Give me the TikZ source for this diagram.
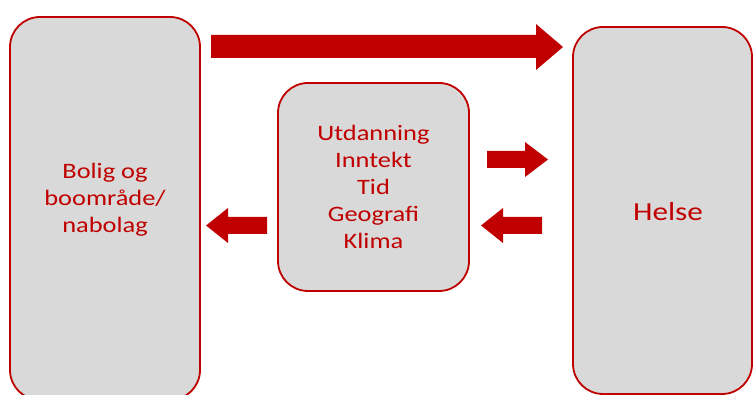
\documentclass[tikz,border=0pt]{standalone}
\usepackage{fontspec}
\newfontfamily\calfont[FakeStretch=1.2]{Carlito}
\definecolor{dred}{HTML}{C00000}
\definecolor{boxgray}{HTML}{D9D9D9}
\tikzset{
  boxnode/.style={draw=dred, line width=1.8pt, fill=boxgray, rounded corners=30pt, inner sep=0pt, minimum width=#1},
  txt/.style={text=dred, font=\calfont\fontsize{22}{27}\selectfont, align=center, inner sep=0pt},
  blockarrow/.style={fill=dred, draw=none}
}
\begin{document}
\begin{tikzpicture}[x=1pt, y=-1pt]
\useasboundingbox (0,0) rectangle (753,395);
\clip (0,0) rectangle (753,395);
% boxes
\node[boxnode=190pt, minimum height=383pt] (bolig) at (105,208.5) {};
\node[boxnode=179pt, minimum height=367pt] (helse) at (662.5,210.5) {};
\node[boxnode=191pt, minimum height=208pt] (faktor) at (373.5,187) {};
% texts
\node[txt] (boligtxt) at (105,200) {Bolig og\\boomr\aa de/\\nabolag};
\node[txt, font=\calfont\fontsize{26}{30}\selectfont] (helsetxt) at (668,212) {Helse};
\node[txt] (faktortxt) at (373.5,187) {Utdanning\\Inntekt\\Tid\\Geografi\\Klima};
% arrows
\fill[blockarrow] (211,35) -- (536,35) -- (536,24) -- (563,47) -- (536,70) -- (536,58) -- (211,58) -- cycle;
\fill[blockarrow] (487,151) -- (525,151) -- (525,142) -- (548,159.5) -- (525,177) -- (525,168) -- (487,168) -- cycle;
\fill[blockarrow] (542,217) -- (503,217) -- (503,208) -- (481,225.5) -- (503,243) -- (503,234) -- (542,234) -- cycle;
\fill[blockarrow] (267,217) -- (228,217) -- (228,208) -- (206,225.5) -- (228,243) -- (228,234) -- (267,234) -- cycle;
\end{tikzpicture}
\end{document}
